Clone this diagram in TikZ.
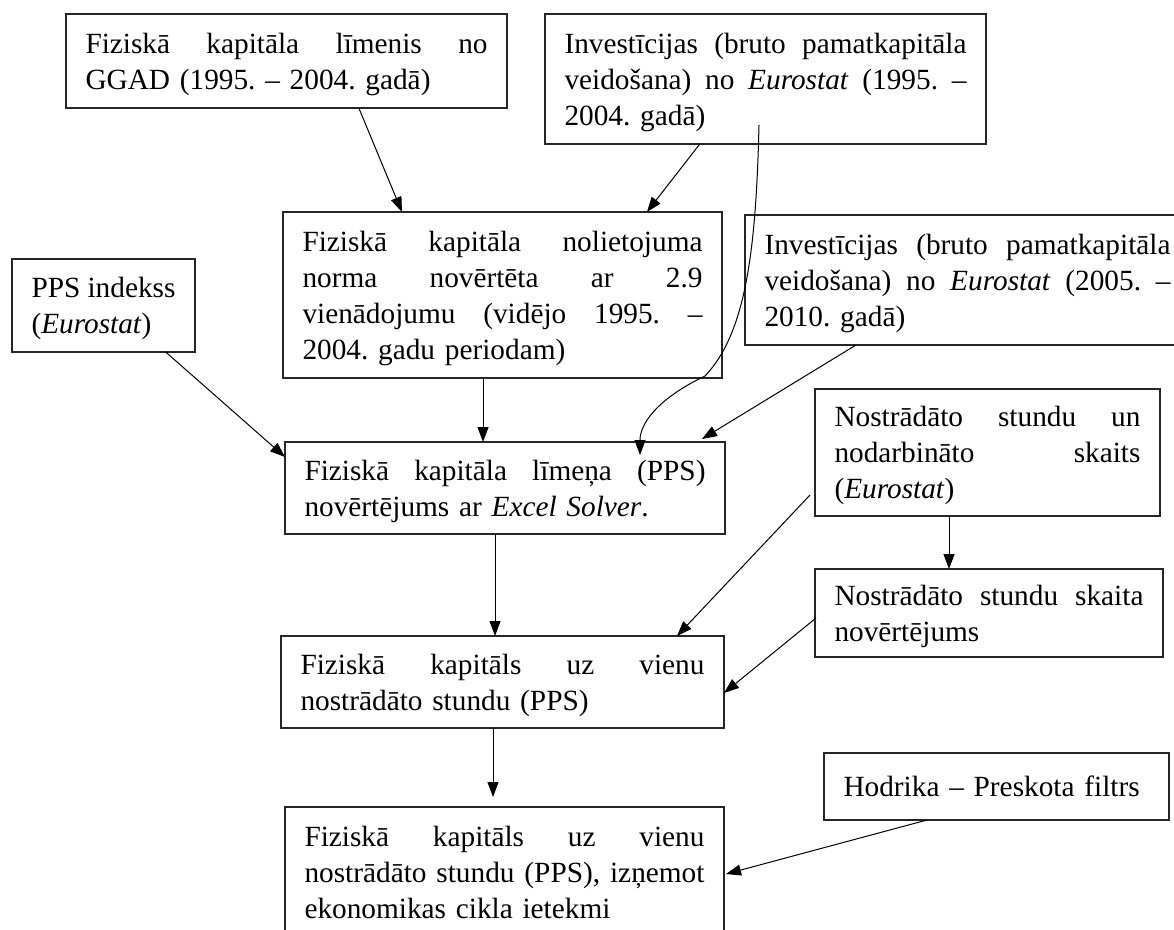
\documentclass[tikz,border=0pt]{standalone}
\usepackage{fontspec}
\setmainfont{Liberation Serif}
\usetikzlibrary{arrows.meta,calc}
\frenchspacing
\newcommand\mystrut{\rule[-8pt]{0pt}{36pt}}
\newcommand\Jl[1]{\leavevmode\hbox to \linewidth{\spaceskip=0.25em plus 1fil minus 0.08em\relax\mystrut#1}\\}
\newcommand\Ll[1]{\leavevmode\mbox{\mystrut#1}}
\tikzset{
  box/.style={draw=black!85, line width=1.3pt, inner xsep=19.5pt, inner ysep=0pt,
    outer sep=0pt, anchor=north west, font=\fontsize{29.3}{36}\selectfont\frenchspacing},
  arr/.style={-{Triangle[length=15pt,width=11pt]}, line width=1pt, black}
}
\begin{document}
\begin{tikzpicture}[x=1pt,y=-1pt]
\useasboundingbox (0,0) rectangle (1174,929);
\fill[white] (0,0) rectangle (1174,929);

\node[box, text width=402pt, minimum height=94pt] (A) at (66,14)
  {\Jl{Fiziskā kapitāla līmenis no}\Ll{GGAD (1995. – 2004. gadā)}};
\node[box, text width=402pt, minimum height=130pt] (B) at (545,14)
  {\Jl{Investīcijas (bruto pamatkapitāla}\Jl{veidošana) no \textit{Eurostat} (1995. –}\Ll{2004. gadā)}};
\node[box, text width=400pt, minimum height=166pt] (C) at (283,212)
  {\Jl{Fiziskā kapitāla nolietojuma}\Jl{norma novērtēta ar 2.9}\Jl{vienādojumu (vidējo 1995. –}\Ll{2004. gadu periodam)}};
\node[box, text width=144pt, minimum height=93pt] (D) at (12,259)
  {\Jl{PPS indekss}\Ll{(\textit{Eurostat})}};
\node[box, text width=406pt, minimum height=130pt] (E) at (745,215)
  {\Jl{Investīcijas (bruto pamatkapitāla}\Jl{veidošana) no \textit{Eurostat} (2005. –}\Ll{2010. gadā)}};
\node[box, text width=401pt, minimum height=92pt] (F) at (285,442)
  {\Jl{Fiziskā kapitāla līmeņa (PPS)}\Ll{novērtējums ar \textit{Excel Solver}.}};
\node[box, text width=306pt, minimum height=127pt] (G) at (815,389)
  {\Jl{Nostrādāto stundu un}\Jl{nodarbināto skaits}\Ll{(\textit{Eurostat})}};
\node[box, text width=309pt, minimum height=88pt] (H) at (815,569)
  {\Jl{Nostrādāto stundu skaita}\Ll{novērtējums}};
\node[box, text width=404pt, minimum height=92pt] (I) at (281,636)
  {\Jl{Fiziskā kapitāls uz vienu}\Ll{nostrādāto stundu (PPS)}};
\node[box, text width=400pt, minimum height=130pt] (J) at (285,807)
  {\Jl{Fiziskā kapitāls uz vienu}\Jl{nostrādāto stundu (PPS), izņemot}\Ll{ekonomikas cikla ietekmi}};
\node[box, text width=306pt, minimum height=67pt] (K) at (824,753)
  {\Ll{Hodrika – Preskota filtrs}};

\draw[arr] ($(A.south west)!0.664!(A.south east)$) -- ($(C.north west)!0.271!(C.north east)$);
\draw[arr] ($(B.south west)!0.351!(B.south east)$) -- ($(C.north west)!0.829!(C.north east)$);
\coordinate (bs) at ($(B.south west)+(214,-19)$);
\draw[arr] (bs) .. controls ($(bs)+(-3,125)$) and ($(C.south east)+(24,-45)$) .. ($(C.south east)+(-17,-2)$)
  .. controls ($(C.south east)+(-67,22)$) and ($(F.north west)+(355,-17)$) .. ($(F.north west)+(355,13)$);
\draw[arr] ($(D.south west)!0.84!(D.south east)$) -- ($(F.north west)+(0,15)$);
\draw[arr] ($(C.south west)+(200,0)$) -- ($(F.north west)+(198,0)$);
\draw[arr] ($(E.south west)+(111,0)$) -- ($(F.north west)+(417,-3)$);
\draw[arr] ($(F.south west)+(210,0)$) -- ($(I.north west)+(214,0)$);
\draw[arr] ($(G.south west)+(134,0)$) -- ($(H.north west)+(134,0)$);
\draw[arr] ($(G.south west)+(-5,-21)$) -- ($(I.north west)+(396,0)$);
\draw[arr] ($(H.north west)+(1,49)$) -- ($(I.north east)+(0,57)$);
\draw[arr] ($(I.south west)+(212,0)$) -- ($(J.north west)+(208,-10)$);
\draw[arr] ($(K.south west)+(103,0)$) -- ($(J.north east)+(2,67)$);
\end{tikzpicture}
\end{document}
